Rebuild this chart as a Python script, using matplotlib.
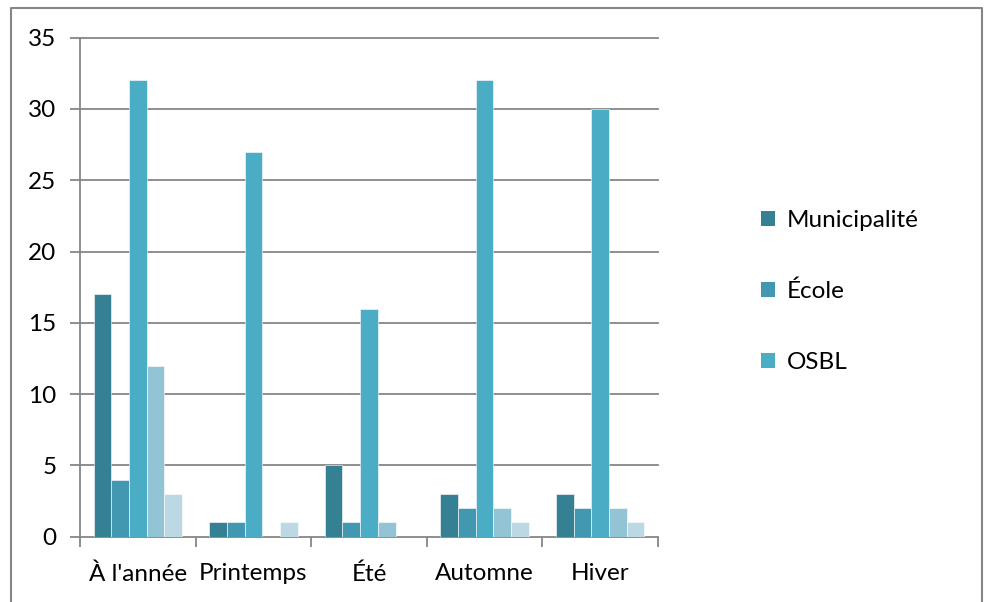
import matplotlib.pyplot as plt
import numpy as np
from matplotlib.lines import Line2D
from matplotlib.patches import Patch

categories = ["À l'année", "Printemps", "Été", "Automne", "Hiver"]
municipalite = [17, 1, 5, 3, 3]
ecole = [4, 1, 1, 2, 2]
osbl = [32, 27, 16, 32, 30]
serie4 = [12, 0, 1, 2, 2]
serie5 = [3, 1, 0, 1, 1]

series = [municipalite, ecole, osbl, serie4, serie5]
colors = ['#368094', '#4298b0', '#4bacc6', '#93c4d5', '#bcd8e4']
legend_names = ['Municipalité', 'École', 'OSBL']

plt.rcParams['font.family'] = ['Lato', 'DejaVu Sans']
fs = 17.5

fig = plt.figure(figsize=(9.9, 6.02), dpi=100)
ax = fig.add_axes([80 / 990, 1 - 536.7 / 602, 578 / 990, 499 / 602])

x = np.arange(len(categories))
w = 0.153
for i, (vals, col) in enumerate(zip(series, colors)):
    ax.bar(x + (i - 2) * w, vals, width=w, color=col, edgecolor='white', linewidth=0.4, zorder=3)

ax.set_xlim(-0.5, len(categories) - 0.5)
ax.set_ylim(0, 35)
ax.set_yticks(range(0, 36, 5))
ax.set_xticks(np.arange(-0.5, len(categories), 1.0))
ax.set_xticklabels([])
ax.set_xticks(x, minor=True)
ax.set_xticklabels(categories, minor=True)
ax.tick_params(axis='x', which='minor', length=0, pad=19, labelsize=fs)
ax.tick_params(axis='x', which='major', length=7, width=1.3, color='#868686', direction='out')
ax.tick_params(axis='y', length=7, width=1.3, color='#868686', labelsize=fs, pad=10)

for y in range(5, 36, 5):
    ax.plot([-0.5, len(categories) - 0.5], [y, y], color='#868686', lw=1.3, zorder=1, clip_on=False)

for s in ['top', 'right']:
    ax.spines[s].set_visible(False)
for s in ['left', 'bottom']:
    ax.spines[s].set_color('#868686')
    ax.spines[s].set_linewidth(1.3)

handles = [Patch(facecolor=c, edgecolor='none') for c in colors[:3]]
fig.legend(handles, legend_names, loc='upper left', bbox_to_anchor=(739 / 990, 1 - 188 / 602),
           frameon=False, fontsize=fs, handlelength=0.6, handleheight=0.6,
           handletextpad=0.45, labelspacing=2.05)

# outer frame
fig.add_artist(Line2D([11 / 990, 11 / 990, 982 / 990, 982 / 990],
                      [0, 1 - 8 / 602, 1 - 8 / 602, 0],
                      transform=fig.transFigure, color='#868686', lw=1.5))

fig.savefig('out.png', dpi=100)
